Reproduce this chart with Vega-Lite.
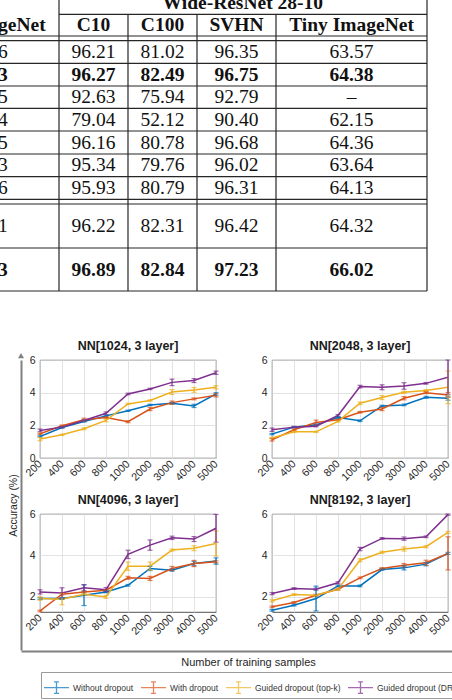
{
"$schema": "https://vega.github.io/schema/vega-lite/v6.json",
"padding": 0,
"background": "white",
"bounds": "flush",
"spacing": 0,
"config": {
 "view": {"stroke": null},
 "font": "Liberation Sans",
 "axis": {"labelFont": "Liberation Sans", "titleFont": "Liberation Sans", "labelColor": "#262626", "gridColor": "#dcdcdc", "gridWidth": 0.8, "ticks": false, "domain": false},
 "axisX": {"labelAngle": -45, "labelAlign": "right", "labelBaseline": "middle", "labelFontSize": 10.8, "labelPadding": 4, "labelOverlap": false, "labelFlush": false},
 "axisY": {"labelFontSize": 10.5, "labelPadding": 5},
 "title": {"font": "Liberation Sans", "fontSize": 12.5, "fontWeight": "bold", "color": "#1a1a1a", "offset": 3, "anchor": "middle"}
},
"datasets": {
 "cells": [
  {"c":3.58,"r":0.5,"t":"Wide-ResNet 28-10","k":"head"},
  {"c":0,"r":1.5,"t":"geNet","k":"head"},
  {"c":1.5,"r":1.5,"t":"C10","k":"head"},
  {"c":2.5,"r":1.5,"t":"C100","k":"head"},
  {"c":3.5,"r":1.5,"t":"SVHN","k":"head"},
  {"c":4.5,"r":1.5,"t":"Tiny ImageNet","k":"head"},
  {"c":0,"r":3.5,"t":"6","k":"plain"},{"c":1.5,"r":3.5,"t":"96.21","k":"plain"},{"c":2.5,"r":3.5,"t":"81.02","k":"plain"},{"c":3.5,"r":3.5,"t":"96.35","k":"plain"},{"c":4.5,"r":3.5,"t":"63.57","k":"plain"},
  {"c":0,"r":4.5,"t":"3","k":"best"},{"c":1.5,"r":4.5,"t":"96.27","k":"best"},{"c":2.5,"r":4.5,"t":"82.49","k":"best"},{"c":3.5,"r":4.5,"t":"96.75","k":"best"},{"c":4.5,"r":4.5,"t":"64.38","k":"best"},
  {"c":0,"r":5.5,"t":"5","k":"plain"},{"c":1.5,"r":5.5,"t":"92.63","k":"plain"},{"c":2.5,"r":5.5,"t":"75.94","k":"plain"},{"c":3.5,"r":5.5,"t":"92.79","k":"plain"},{"c":4.5,"r":5.5,"t":"–","k":"plain"},
  {"c":0,"r":6.5,"t":"4","k":"plain"},{"c":1.5,"r":6.5,"t":"79.04","k":"plain"},{"c":2.5,"r":6.5,"t":"52.12","k":"plain"},{"c":3.5,"r":6.5,"t":"90.40","k":"plain"},{"c":4.5,"r":6.5,"t":"62.15","k":"plain"},
  {"c":0,"r":7.5,"t":"5","k":"plain"},{"c":1.5,"r":7.5,"t":"96.16","k":"plain"},{"c":2.5,"r":7.5,"t":"80.78","k":"plain"},{"c":3.5,"r":7.5,"t":"96.68","k":"plain"},{"c":4.5,"r":7.5,"t":"64.36","k":"plain"},
  {"c":0,"r":8.5,"t":"3","k":"plain"},{"c":1.5,"r":8.5,"t":"95.34","k":"plain"},{"c":2.5,"r":8.5,"t":"79.76","k":"plain"},{"c":3.5,"r":8.5,"t":"96.02","k":"plain"},{"c":4.5,"r":8.5,"t":"63.64","k":"plain"},
  {"c":0,"r":9.5,"t":"6","k":"plain"},{"c":1.5,"r":9.5,"t":"95.93","k":"plain"},{"c":2.5,"r":9.5,"t":"80.79","k":"plain"},{"c":3.5,"r":9.5,"t":"96.31","k":"plain"},{"c":4.5,"r":9.5,"t":"64.13","k":"plain"},
  {"c":0,"r":11.5,"t":"1","k":"plain"},{"c":1.5,"r":11.5,"t":"96.22","k":"plain"},{"c":2.5,"r":11.5,"t":"82.31","k":"plain"},{"c":3.5,"r":11.5,"t":"96.42","k":"plain"},{"c":4.5,"r":11.5,"t":"64.32","k":"plain"},
  {"c":0,"r":12.5,"t":"3","k":"best"},{"c":1.5,"r":12.5,"t":"96.89","k":"best"},{"c":2.5,"r":12.5,"t":"82.84","k":"best"},{"c":3.5,"r":12.5,"t":"97.23","k":"best"},{"c":4.5,"r":12.5,"t":"66.02","k":"best"}
 ],
 "hlines": [
  {"x":1,"x2":5,"y":1},{"x":0,"x2":5,"y":2},{"x":0,"x2":5,"y":3},{"x":0,"x2":5,"y":4},{"x":0,"x2":5,"y":5},{"x":0,"x2":5,"y":6},{"x":0,"x2":5,"y":7},{"x":0,"x2":5,"y":8},{"x":0,"x2":5,"y":9},{"x":0,"x2":5,"y":10},{"x":0,"x2":5,"y":11},{"x":0,"x2":5,"y":12},{"x":0,"x2":5,"y":13}
 ],
 "vlines": [
  {"x":1,"y":0,"y2":13},{"x":2,"y":1,"y2":13},{"x":3,"y":1,"y2":13},{"x":4,"y":1,"y2":13},{"x":5,"y":0,"y2":13}
 ],
 "p1": [
  {"n":200,"s":"Without dropout","v":1.32,"e":0.04},{"n":400,"s":"Without dropout","v":1.87,"e":0.04},{"n":600,"s":"Without dropout","v":2.24,"e":0.04},{"n":800,"s":"Without dropout","v":2.58,"e":0.04},{"n":1000,"s":"Without dropout","v":2.89,"e":0.04},{"n":2000,"s":"Without dropout","v":3.25,"e":0.04},{"n":3000,"s":"Without dropout","v":3.35,"e":0.05},{"n":4000,"s":"Without dropout","v":3.19,"e":0.1},{"n":5000,"s":"Without dropout","v":3.92,"e":0.08},
  {"n":200,"s":"With dropout","v":1.48,"e":0.04},{"n":400,"s":"With dropout","v":1.97,"e":0.05},{"n":600,"s":"With dropout","v":2.34,"e":0.1},{"n":800,"s":"With dropout","v":2.48,"e":0.04},{"n":1000,"s":"With dropout","v":2.22,"e":0.06},{"n":2000,"s":"With dropout","v":3.0,"e":0.1},{"n":3000,"s":"With dropout","v":3.39,"e":0.1},{"n":4000,"s":"With dropout","v":3.62,"e":0.06},{"n":5000,"s":"With dropout","v":3.84,"e":0.1},
  {"n":200,"s":"Guided dropout (top-k)","v":1.16,"e":0.1},{"n":400,"s":"Guided dropout (top-k)","v":1.42,"e":0.04},{"n":600,"s":"Guided dropout (top-k)","v":1.79,"e":0.06},{"n":800,"s":"Guided dropout (top-k)","v":2.3,"e":0.08},{"n":1000,"s":"Guided dropout (top-k)","v":3.31,"e":0.04},{"n":2000,"s":"Guided dropout (top-k)","v":3.52,"e":0.04},{"n":3000,"s":"Guided dropout (top-k)","v":4.04,"e":0.15},{"n":4000,"s":"Guided dropout (top-k)","v":4.17,"e":0.15},{"n":5000,"s":"Guided dropout (top-k)","v":4.33,"e":0.1},
  {"n":200,"s":"Guided dropout (DR)","v":1.69,"e":0.08},{"n":400,"s":"Guided dropout (DR)","v":1.89,"e":0.04},{"n":600,"s":"Guided dropout (DR)","v":2.3,"e":0.04},{"n":800,"s":"Guided dropout (DR)","v":2.74,"e":0.08},{"n":1000,"s":"Guided dropout (DR)","v":3.92,"e":0.05},{"n":2000,"s":"Guided dropout (DR)","v":4.23,"e":0.04},{"n":3000,"s":"Guided dropout (DR)","v":4.63,"e":0.2},{"n":4000,"s":"Guided dropout (DR)","v":4.74,"e":0.12},{"n":5000,"s":"Guided dropout (DR)","v":5.22,"e":0.1}
 ],
 "p2": [
  {"n":200,"s":"Without dropout","v":1.46,"e":0.04},{"n":400,"s":"Without dropout","v":1.89,"e":0.04},{"n":600,"s":"Without dropout","v":2.03,"e":0.04},{"n":800,"s":"Without dropout","v":2.48,"e":0.04},{"n":1000,"s":"Without dropout","v":2.28,"e":0.05},{"n":2000,"s":"Without dropout","v":3.19,"e":0.04},{"n":3000,"s":"Without dropout","v":3.25,"e":0.05},{"n":4000,"s":"Without dropout","v":3.72,"e":0.06},{"n":5000,"s":"Without dropout","v":3.66,"e":0.12},
  {"n":200,"s":"With dropout","v":1.12,"e":0.08},{"n":400,"s":"With dropout","v":1.73,"e":0.05},{"n":600,"s":"With dropout","v":2.17,"e":0.15},{"n":800,"s":"With dropout","v":2.34,"e":0.04},{"n":1000,"s":"With dropout","v":2.8,"e":0.05},{"n":2000,"s":"With dropout","v":3.0,"e":0.1},{"n":3000,"s":"With dropout","v":3.66,"e":0.1},{"n":4000,"s":"With dropout","v":4.0,"e":0.06},{"n":5000,"s":"With dropout","v":3.86,"e":0.15},
  {"n":200,"s":"Guided dropout (top-k)","v":1.22,"e":0.04},{"n":400,"s":"Guided dropout (top-k)","v":1.6,"e":0.04},{"n":600,"s":"Guided dropout (top-k)","v":1.6,"e":0.04},{"n":800,"s":"Guided dropout (top-k)","v":2.24,"e":0.04},{"n":1000,"s":"Guided dropout (top-k)","v":3.35,"e":0.08},{"n":2000,"s":"Guided dropout (top-k)","v":3.7,"e":0.12},{"n":3000,"s":"Guided dropout (top-k)","v":4.02,"e":0.06},{"n":4000,"s":"Guided dropout (top-k)","v":4.13,"e":0.06},{"n":5000,"s":"Guided dropout (top-k)","v":4.33,"e":1.0},
  {"n":200,"s":"Guided dropout (DR)","v":1.73,"e":0.1},{"n":400,"s":"Guided dropout (DR)","v":1.89,"e":0.04},{"n":600,"s":"Guided dropout (DR)","v":1.95,"e":0.04},{"n":800,"s":"Guided dropout (DR)","v":2.6,"e":0.06},{"n":1000,"s":"Guided dropout (DR)","v":4.37,"e":0.08},{"n":2000,"s":"Guided dropout (DR)","v":4.33,"e":0.15},{"n":3000,"s":"Guided dropout (DR)","v":4.41,"e":0.2},{"n":4000,"s":"Guided dropout (DR)","v":4.57,"e":0.05},{"n":5000,"s":"Guided dropout (DR)","v":4.95,"e":1.05}
 ],
 "p3": [
  {"n":200,"s":"Without dropout","v":1.92,"e":0.04},{"n":400,"s":"Without dropout","v":1.92,"e":0.04},{"n":600,"s":"Without dropout","v":2.08,"e":0.5},{"n":800,"s":"Without dropout","v":2.24,"e":0.04},{"n":1000,"s":"Without dropout","v":2.56,"e":0.04},{"n":2000,"s":"Without dropout","v":3.37,"e":0.1},{"n":3000,"s":"Without dropout","v":3.29,"e":0.05},{"n":4000,"s":"Without dropout","v":3.61,"e":0.1},{"n":5000,"s":"Without dropout","v":3.73,"e":0.15},
  {"n":200,"s":"With dropout","v":1.32,"e":0.04},{"n":400,"s":"With dropout","v":2.13,"e":0.04},{"n":600,"s":"With dropout","v":2.24,"e":0.04},{"n":800,"s":"With dropout","v":2.32,"e":0.04},{"n":1000,"s":"With dropout","v":2.92,"e":0.07},{"n":2000,"s":"With dropout","v":2.89,"e":0.1},{"n":3000,"s":"With dropout","v":3.37,"e":0.1},{"n":4000,"s":"With dropout","v":3.61,"e":0.15},{"n":5000,"s":"With dropout","v":3.69,"e":0.05},
  {"n":200,"s":"Guided dropout (top-k)","v":1.92,"e":0.08},{"n":400,"s":"Guided dropout (top-k)","v":1.89,"e":0.27},{"n":600,"s":"Guided dropout (top-k)","v":2.13,"e":0.04},{"n":800,"s":"Guided dropout (top-k)","v":2.0,"e":0.07},{"n":1000,"s":"Guided dropout (top-k)","v":3.48,"e":0.2},{"n":2000,"s":"Guided dropout (top-k)","v":3.48,"e":0.2},{"n":3000,"s":"Guided dropout (top-k)","v":4.26,"e":0.05},{"n":4000,"s":"Guided dropout (top-k)","v":4.35,"e":0.12},{"n":5000,"s":"Guided dropout (top-k)","v":4.58,"e":0.6},
  {"n":200,"s":"Guided dropout (DR)","v":2.24,"e":0.1},{"n":400,"s":"Guided dropout (DR)","v":2.19,"e":0.25},{"n":600,"s":"Guided dropout (DR)","v":2.44,"e":0.15},{"n":800,"s":"Guided dropout (DR)","v":2.35,"e":0.1},{"n":1000,"s":"Guided dropout (DR)","v":4.05,"e":0.2},{"n":2000,"s":"Guided dropout (DR)","v":4.5,"e":0.25},{"n":3000,"s":"Guided dropout (DR)","v":4.85,"e":0.08},{"n":4000,"s":"Guided dropout (DR)","v":4.79,"e":0.12},{"n":5000,"s":"Guided dropout (DR)","v":5.31,"e":0.67}
 ],
 "p4": [
  {"n":200,"s":"Without dropout","v":1.35,"e":0.04},{"n":400,"s":"Without dropout","v":1.6,"e":0.04},{"n":600,"s":"Without dropout","v":1.92,"e":0.6},{"n":800,"s":"Without dropout","v":2.53,"e":0.04},{"n":1000,"s":"Without dropout","v":2.53,"e":0.04},{"n":2000,"s":"Without dropout","v":3.32,"e":0.04},{"n":3000,"s":"Without dropout","v":3.4,"e":0.1},{"n":4000,"s":"Without dropout","v":3.58,"e":0.08},{"n":5000,"s":"Without dropout","v":4.1,"e":0.05},
  {"n":200,"s":"With dropout","v":1.52,"e":0.04},{"n":400,"s":"With dropout","v":1.73,"e":0.04},{"n":600,"s":"With dropout","v":2.08,"e":0.04},{"n":800,"s":"With dropout","v":2.37,"e":0.04},{"n":1000,"s":"With dropout","v":2.92,"e":0.04},{"n":2000,"s":"With dropout","v":3.37,"e":0.04},{"n":3000,"s":"With dropout","v":3.53,"e":0.08},{"n":4000,"s":"With dropout","v":3.65,"e":0.12},{"n":5000,"s":"With dropout","v":4.1,"e":0.8},
  {"n":200,"s":"Guided dropout (top-k)","v":1.81,"e":0.05},{"n":400,"s":"Guided dropout (top-k)","v":2.11,"e":0.04},{"n":600,"s":"Guided dropout (top-k)","v":2.08,"e":0.04},{"n":800,"s":"Guided dropout (top-k)","v":2.37,"e":0.04},{"n":1000,"s":"Guided dropout (top-k)","v":3.77,"e":0.07},{"n":2000,"s":"Guided dropout (top-k)","v":4.15,"e":0.05},{"n":3000,"s":"Guided dropout (top-k)","v":4.31,"e":0.1},{"n":4000,"s":"Guided dropout (top-k)","v":4.42,"e":0.05},{"n":5000,"s":"Guided dropout (top-k)","v":5.11,"e":0.05},
  {"n":200,"s":"Guided dropout (DR)","v":2.16,"e":0.05},{"n":400,"s":"Guided dropout (DR)","v":2.4,"e":0.04},{"n":600,"s":"Guided dropout (DR)","v":2.37,"e":0.05},{"n":800,"s":"Guided dropout (DR)","v":2.68,"e":0.05},{"n":1000,"s":"Guided dropout (DR)","v":4.31,"e":0.08},{"n":2000,"s":"Guided dropout (DR)","v":4.82,"e":0.04},{"n":3000,"s":"Guided dropout (DR)","v":4.81,"e":0.08},{"n":4000,"s":"Guided dropout (DR)","v":4.9,"e":0.04},{"n":5000,"s":"Guided dropout (DR)","v":5.97,"e":0.03}
 ]
},
"vconcat": [
 {
  "width": 452, "height": 360,
  "layer": [
   {"data": {"name": "hlines"}, "mark": {"type": "rule", "color": "#262626", "strokeWidth": 1.2, "clip": true},
    "encoding": {
     "x": {"field": "x", "type": "quantitative", "scale": {"domain": [0,1,2,3,4,5], "range": [0,59,128,197,276,427], "nice": false, "zero": false}, "axis": null},
     "x2": {"field": "x2"},
     "y": {"field": "y", "type": "quantitative", "scale": {"domain": [0,1,2,3,4,5,6,7,8,9,10,11,12,13], "range": [-9,14.3,36,40.7,63.3,86,108.3,131,154,176.7,199.3,204,248,291], "nice": false, "zero": false}, "axis": null}
    }},
   {"data": {"name": "vlines"}, "mark": {"type": "rule", "color": "#262626", "strokeWidth": 1.2, "clip": true},
    "encoding": {
     "x": {"field": "x", "type": "quantitative", "axis": null},
     "y": {"field": "y", "type": "quantitative", "axis": null},
     "y2": {"field": "y2"}
    }},
   {"data": {"name": "cells"}, "transform": [{"filter": "datum.c > 0 && datum.k == 'plain'"}],
    "mark": {"type": "text", "font": "Liberation Serif", "fontSize": 19.5, "align": "center", "baseline": "middle", "color": "#111111", "clip": true},
    "encoding": {"x": {"field": "c", "type": "quantitative", "axis": null}, "y": {"field": "r", "type": "quantitative", "axis": null}, "text": {"field": "t"}}},
   {"data": {"name": "cells"}, "transform": [{"filter": "datum.c > 0 && datum.k != 'plain'"}],
    "mark": {"type": "text", "font": "Liberation Serif", "fontSize": 19.5, "fontWeight": "bold", "align": "center", "baseline": "middle", "color": "#111111", "clip": true},
    "encoding": {"x": {"field": "c", "type": "quantitative", "axis": null}, "y": {"field": "r", "type": "quantitative", "axis": null}, "text": {"field": "t"}}},
   {"data": {"name": "cells"}, "transform": [{"filter": "datum.c == 0 && datum.k == 'plain'"}],
    "mark": {"type": "text", "font": "Liberation Serif", "fontSize": 19.5, "align": "left", "baseline": "middle", "dx": -2, "color": "#111111", "clip": true},
    "encoding": {"x": {"field": "c", "type": "quantitative", "axis": null}, "y": {"field": "r", "type": "quantitative", "axis": null}, "text": {"field": "t"}}},
   {"data": {"name": "cells"}, "transform": [{"filter": "datum.c == 0 && datum.k != 'plain'"}],
    "mark": {"type": "text", "font": "Liberation Serif", "fontSize": 19.5, "fontWeight": "bold", "align": "left", "baseline": "middle", "dx": -2, "color": "#111111", "clip": true},
    "encoding": {"x": {"field": "c", "type": "quantitative", "axis": null}, "y": {"field": "r", "type": "quantitative", "axis": null}, "text": {"field": "t"}}}
  ]
 },
 {
  "vconcat": [
   {
    "hconcat": [
     {
      "width": 21, "height": 290,
      "data": {"values": [{"a": 1, "t": 1.015}]},
      "mark": {"type": "point", "shape": "triangle-up", "filled": true, "size": 36, "color": "#808080", "opacity": 1},
      "encoding": {
       "x": {"field": "a", "type": "quantitative", "scale": {"domain": [0,1], "nice": false, "zero": false}, "axis": null},
       "y": {"field": "t", "type": "quantitative", "scale": {"domain": [0,1], "nice": false, "zero": false},
        "axis": {"orient": "left", "offset": -21, "domain": true, "domainColor": "#808080", "domainWidth": 2, "ticks": false, "labels": false, "grid": false, "title": "Accuracy (%)", "titleFontSize": 10.5, "titleFontWeight": "normal", "titleColor": "#262626", "titlePadding": 3}}
      }
     },
     {
      "vconcat": [
       {
        "hconcat": [
         {
          "width": 176, "height": 98,
          "data": {"name": "p1"},
          "title": "NN[1024, 3 layer]",
          "view": {"stroke": "#262626", "strokeWidth": 0.8},
          "encoding": {
           "x": {"field": "n", "type": "ordinal", "scale": {"type": "point", "padding": 0}, "axis": {"title": null, "grid": true}},
           "y": {"field": "v", "type": "quantitative", "scale": {"domain": [0,6], "nice": false, "zero": false}, "axis": {"title": null, "grid": true, "values": [0,2,4,6]}},
           "color": {"field": "s", "type": "nominal", "scale": {"domain": ["Without dropout","With dropout","Guided dropout (top-k)","Guided dropout (DR)"], "range": ["#0072BD","#D95319","#EDB120","#7E2F8E"]},
            "legend": {"title": null, "orient": "none", "legendX": 41, "legendY": 672, "direction": "horizontal", "columns": 4, "symbolType": "M-1,0H1M0,-0.46V0.46M-0.2,-0.46H0.2M-0.2,0.46H0.2", "symbolSize": 625, "symbolStrokeWidth": 1.3, "labelFont": "Liberation Sans", "labelFontSize": 8.5, "labelColor": "#333333", "labelOffset": 3, "columnPadding": 4, "padding": 2, "strokeColor": "#9a9a9a", "labelLimit": 200}}
          },
          "layer": [
           {"mark": {"type": "line", "strokeWidth": 1.5, "clip": true}},
           {"mark": {"type": "errorbar", "ticks": {"size": 5}, "thickness": 1.2}, "encoding": {"yError": {"field": "e"}}}
          ]
         },
         {
          "width": 176, "height": 98,
          "data": {"name": "p2"},
          "title": "NN[2048, 3 layer]",
          "view": {"stroke": "#262626", "strokeWidth": 0.8},
          "encoding": {
           "x": {"field": "n", "type": "ordinal", "scale": {"type": "point", "padding": 0}, "axis": {"title": null, "grid": true}},
           "y": {"field": "v", "type": "quantitative", "scale": {"domain": [0,6], "nice": false, "zero": false}, "axis": {"title": null, "grid": true, "values": [0,2,4,6]}},
           "color": {"field": "s", "type": "nominal", "scale": {"domain": ["Without dropout","With dropout","Guided dropout (top-k)","Guided dropout (DR)"], "range": ["#0072BD","#D95319","#EDB120","#7E2F8E"]},
            "legend": {"title": null, "orient": "none", "legendX": 41, "legendY": 672, "direction": "horizontal", "columns": 4, "symbolType": "M-1,0H1M0,-0.46V0.46M-0.2,-0.46H0.2M-0.2,0.46H0.2", "symbolSize": 625, "symbolStrokeWidth": 1.3, "labelFont": "Liberation Sans", "labelFontSize": 8.5, "labelColor": "#333333", "labelOffset": 3, "columnPadding": 4, "padding": 2, "strokeColor": "#9a9a9a", "labelLimit": 200}}
          },
          "layer": [
           {"mark": {"type": "line", "strokeWidth": 1.5, "clip": true}},
           {"mark": {"type": "errorbar", "ticks": {"size": 5}, "thickness": 1.2}, "encoding": {"yError": {"field": "e"}}}
          ]
         }
        ],
        "spacing": 56, "bounds": "flush"
       },
       {
        "hconcat": [
         {
          "width": 176, "height": 98,
          "data": {"name": "p3"},
          "title": "NN[4096, 3 layer]",
          "view": {"stroke": "#262626", "strokeWidth": 0.8},
          "encoding": {
           "x": {"field": "n", "type": "ordinal", "scale": {"type": "point", "padding": 0}, "axis": {"title": null, "grid": true}},
           "y": {"field": "v", "type": "quantitative", "scale": {"domain": [1.27,6], "nice": false, "zero": false}, "axis": {"title": null, "grid": true, "values": [2,4,6]}},
           "color": {"field": "s", "type": "nominal", "scale": {"domain": ["Without dropout","With dropout","Guided dropout (top-k)","Guided dropout (DR)"], "range": ["#0072BD","#D95319","#EDB120","#7E2F8E"]},
            "legend": {"title": null, "orient": "none", "legendX": 41, "legendY": 672, "direction": "horizontal", "columns": 4, "symbolType": "M-1,0H1M0,-0.46V0.46M-0.2,-0.46H0.2M-0.2,0.46H0.2", "symbolSize": 625, "symbolStrokeWidth": 1.3, "labelFont": "Liberation Sans", "labelFontSize": 8.5, "labelColor": "#333333", "labelOffset": 3, "columnPadding": 4, "padding": 2, "strokeColor": "#9a9a9a", "labelLimit": 200}}
          },
          "layer": [
           {"mark": {"type": "line", "strokeWidth": 1.5, "clip": true}},
           {"mark": {"type": "errorbar", "ticks": {"size": 5}, "thickness": 1.2}, "encoding": {"yError": {"field": "e"}}}
          ]
         },
         {
          "width": 176, "height": 98,
          "data": {"name": "p4"},
          "title": "NN[8192, 3 layer]",
          "view": {"stroke": "#262626", "strokeWidth": 0.8},
          "encoding": {
           "x": {"field": "n", "type": "ordinal", "scale": {"type": "point", "padding": 0}, "axis": {"title": null, "grid": true}},
           "y": {"field": "v", "type": "quantitative", "scale": {"domain": [1.27,6], "nice": false, "zero": false}, "axis": {"title": null, "grid": true, "values": [2,4,6]}},
           "color": {"field": "s", "type": "nominal", "scale": {"domain": ["Without dropout","With dropout","Guided dropout (top-k)","Guided dropout (DR)"], "range": ["#0072BD","#D95319","#EDB120","#7E2F8E"]},
            "legend": {"title": null, "orient": "none", "legendX": 41, "legendY": 672, "direction": "horizontal", "columns": 4, "symbolType": "M-1,0H1M0,-0.46V0.46M-0.2,-0.46H0.2M-0.2,0.46H0.2", "symbolSize": 625, "symbolStrokeWidth": 1.3, "labelFont": "Liberation Sans", "labelFontSize": 8.5, "labelColor": "#333333", "labelOffset": 3, "columnPadding": 4, "padding": 2, "strokeColor": "#9a9a9a", "labelLimit": 200}}
          },
          "layer": [
           {"mark": {"type": "line", "strokeWidth": 1.5, "clip": true}},
           {"mark": {"type": "errorbar", "ticks": {"size": 5}, "thickness": 1.2}, "encoding": {"yError": {"field": "e"}}}
          ]
         }
        ],
        "spacing": 56, "bounds": "flush"
       }
      ],
      "spacing": 154, "bounds": "flush"
     }
    ],
    "spacing": 19, "bounds": "flush"
   },
   {
    "width": 452, "height": 1,
    "data": {"values": [{"a": 0}]},
    "mark": {"type": "point", "opacity": 0},
    "encoding": {
     "x": {"field": "a", "type": "quantitative", "scale": {"domain": [0,1], "range": [21,452], "nice": false, "zero": false},
      "axis": {"orient": "bottom", "domain": true, "domainColor": "#808080", "domainWidth": 2, "labels": false, "ticks": false, "grid": false, "title": "Number of training samples", "titleFontSize": 11, "titleFontWeight": "normal", "titleColor": "#262626", "titlePadding": 5, "titleX": 248}}
    }
   }
  ],
  "spacing": 290, "bounds": "flush"
 }
]
}
